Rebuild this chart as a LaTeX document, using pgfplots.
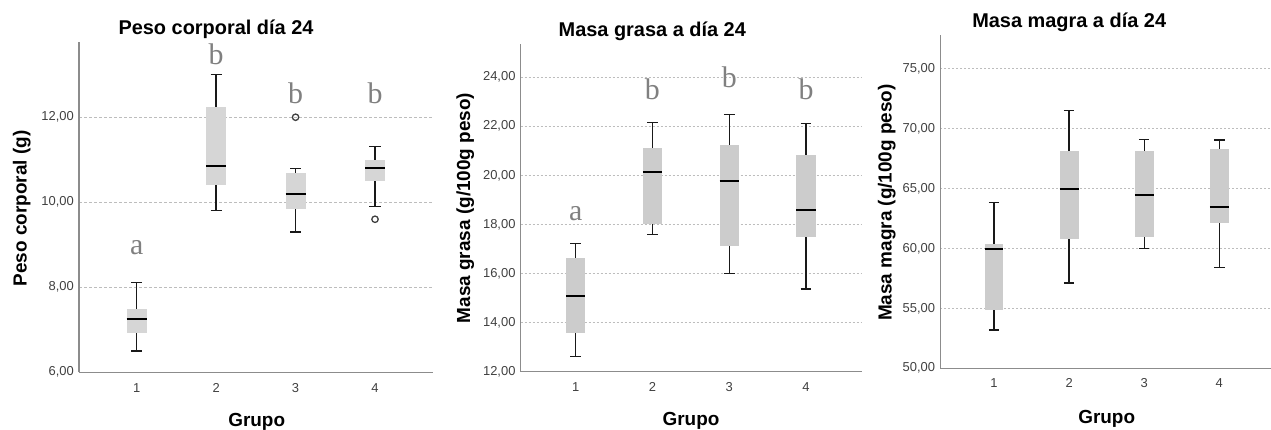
\documentclass[border=0pt]{standalone}
\usepackage{fontspec}
\setmainfont{Liberation Sans}
\newfontfamily\letterfont{Liberation Serif}
\usepackage{pgfplots}
\pgfplotsset{compat=1.18}
\usepgfplotslibrary{statistics}
\definecolor{axisgray}{HTML}{8C8C8C}
\definecolor{tickgray}{HTML}{404040}
\definecolor{gridgray}{HTML}{BDBDBD}
\definecolor{boxA}{HTML}{D6D6D6}
\definecolor{boxB}{HTML}{CCCCCC}
\definecolor{lettergray}{HTML}{808080}
\tikzset{lett/.style={font=\letterfont\fontsize{30}{32}\selectfont, text=lettergray, anchor=base, inner sep=0pt}}
\pgfplotsset{
  spss/.style={
    scale only axis, anchor=south west, clip=false,
    axis x line*=bottom, axis y line*=left,
    axis line style={draw=axisgray, line width=1.3bp, -},
    major tick length=0pt,
    xtick={1,2,3,4}, xticklabels={1,2,3,4},
    ymajorgrids,
    tick label style={font=\fontsize{13}{15}\selectfont, text=tickgray},
    xticklabel style={anchor=base, yshift=-19.7bp},
    yticklabel style={anchor=east, inner sep=0pt, xshift=-5bp,
      /pgf/number format/.cd, fixed, fixed zerofill, precision=2, use comma, assume math mode=true},
    boxplot/draw direction=y,
    boxplot/box extend=0.25,
    boxplot/whisker extend=0.14,
    boxplot/every median/.style={draw=black, line width=2bp},
    boxplot/every whisker/.style={draw=black!90, line width=1.3bp},
  },
  bxp/.style={black, mark=o, mark size=3.2bp, mark options={draw=black!75, line width=1.3bp}},
}
\begin{document}
\begin{tikzpicture}
\useasboundingbox (0,0) rectangle (1271bp,430bp);
% ---------- Panel 1 ----------
\begin{axis}[spss, at={(79bp,57.7bp)}, width=353.7bp, height=330.3bp,
  xmin=0.274, xmax=4.726, ymin=6, ymax=13.77, ytick={6,8,10,12},
  major grid style={gridgray, line width=0.8bp, dash pattern=on 3bp off 2bp},
  boxplot/every box/.style={draw=none, fill=boxA}]
\addplot[bxp, boxplot prepared={lower whisker=6.50, lower quartile=6.92, median=7.25, upper quartile=7.49, upper whisker=8.11, draw position=1}] coordinates {};
\addplot[bxp, boxplot prepared={lower whisker=9.80, lower quartile=10.41, median=10.85, upper quartile=12.24, upper whisker=13.00, draw position=2}] coordinates {};
\addplot[bxp, boxplot prepared={lower whisker=9.30, lower quartile=9.85, median=10.20, upper quartile=10.69, upper whisker=10.80, draw position=3}] table[row sep=\\, y index=0] {data\\ 12.0\\};
\addplot[bxp, boxplot prepared={lower whisker=9.90, lower quartile=10.50, median=10.80, upper quartile=10.99, upper whisker=11.31, draw position=4}] table[row sep=\\, y index=0] {data\\ 9.6\\};
\node[lett] at (axis cs:1,8.78) {a};
\node[lett] at (axis cs:2,13.25) {b};
\node[lett] at (axis cs:3,12.33) {b};
\node[lett] at (axis cs:4,12.33) {b};
\end{axis}
% ---------- Panel 2 ----------
\begin{axis}[spss, at={(520.7bp,58.3bp)}, width=341.6bp, height=327.4bp,
  xmin=0.284, xmax=4.733, ymin=12, ymax=25.34, ytick={12,14,...,24},
  major grid style={gridgray, line width=0.8bp, dash pattern=on 2bp off 2bp},
  boxplot/every box/.style={draw=none, fill=boxB}]
\addplot[bxp, boxplot prepared={lower whisker=12.61, lower quartile=13.56, median=15.08, upper quartile=16.64, upper whisker=17.23, draw position=1}] coordinates {};
\addplot[bxp, boxplot prepared={lower whisker=17.60, lower quartile=18.00, median=20.12, upper quartile=21.12, upper whisker=22.14, draw position=2}] coordinates {};
\addplot[bxp, boxplot prepared={lower whisker=16.00, lower quartile=17.13, median=19.76, upper quartile=21.22, upper whisker=22.47, draw position=3}] coordinates {};
\addplot[bxp, boxplot prepared={lower whisker=15.37, lower quartile=17.49, median=18.59, upper quartile=20.81, upper whisker=22.10, draw position=4}] coordinates {};
\node[lett] at (axis cs:1,18.18) {a};
\node[lett] at (axis cs:2,23.11) {b};
\node[lett] at (axis cs:3,23.58) {b};
\node[lett] at (axis cs:4,23.11) {b};
\end{axis}
% ---------- Panel 3 ----------
\begin{axis}[spss, at={(940.3bp,61.7bp)}, width=330.4bp, height=333.3bp,
  xmin=0.285, xmax=4.684, ymin=50, ymax=77.78, ytick={50,55,...,75},
  major grid style={gridgray, line width=0.8bp, dash pattern=on 2bp off 2bp},
  boxplot/every box/.style={draw=none, fill=boxB}]
\addplot[bxp, boxplot prepared={lower whisker=53.19, lower quartile=54.88, median=59.94, upper quartile=60.36, upper whisker=63.83, draw position=1}] coordinates {};
\addplot[bxp, boxplot prepared={lower whisker=57.11, lower quartile=60.80, median=64.97, upper quartile=68.13, upper whisker=71.47, draw position=2}] coordinates {};
\addplot[bxp, boxplot prepared={lower whisker=60.00, lower quartile=60.92, median=64.42, upper quartile=68.08, upper whisker=69.08, draw position=3}] coordinates {};
\addplot[bxp, boxplot prepared={lower whisker=58.39, lower quartile=62.14, median=63.42, upper quartile=68.28, upper whisker=69.03, draw position=4}] coordinates {};
\end{axis}
% ---------- Titles and labels ----------
\begin{scope}[every node/.style={font=\bfseries\fontsize{20}{24}\selectfont, inner sep=0pt, anchor=base}]
\node at (216bp,395.7bp) {Peso corporal día 24};
\node at (652.3bp,393.3bp) {Masa grasa a día 24};
\node at (1069.2bp,402.7bp) {Masa magra a día 24};
\end{scope}
\begin{scope}[every node/.style={font=\bfseries\fontsize{19}{22}\selectfont, inner sep=0pt, anchor=base}]
\node[rotate=90] at (26.7bp,221.5bp) {Peso corporal (g)};
\node[rotate=90] at (470bp,222bp) {Masa grasa (g/100g peso)};
\node[rotate=90] at (891.7bp,227.5bp) {Masa magra (g/100g peso)};
\node at (256.7bp,4bp) {Grupo};
\node at (691bp,5bp) {Grupo};
\node at (1106.7bp,7bp) {Grupo};
\end{scope}
\end{tikzpicture}
\end{document}
